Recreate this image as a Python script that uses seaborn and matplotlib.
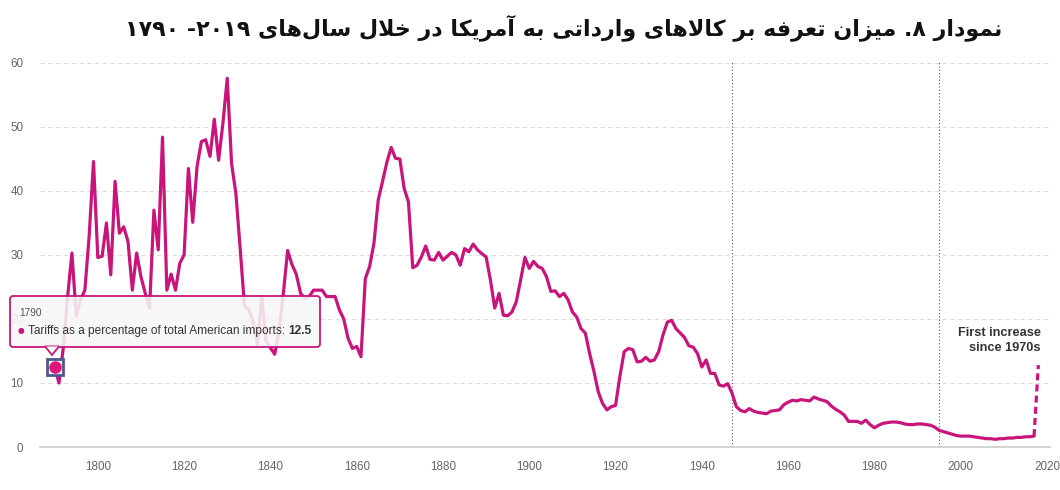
import numpy as np
import pandas as pd
import seaborn as sns
import matplotlib.pyplot as plt
from matplotlib.patches import FancyBboxPatch, Polygon
from matplotlib.transforms import IdentityTransform

### Data
years = list(range(1790, 2018))
tariff = [
    12.5, 10.0, 15.5, 23.5, 30.3, 20.5, 23.0, 24.5, 33.0, 44.6,   # 1790s
    29.6, 29.8, 35.0, 26.9, 41.5, 33.4, 34.4, 32.1, 24.5, 30.3,   # 1800s
    26.6, 24.0, 21.7, 37.0, 30.8, 48.4, 24.5, 27.0, 24.5, 28.7,   # 1810s
    30.0, 43.5, 35.1, 43.8, 47.7, 48.0, 45.4, 51.2, 44.8, 50.6,   # 1820s
    57.6, 44.3, 39.6, 31.0, 22.0, 21.5, 19.5, 16.0, 23.5, 16.5,   # 1830s
    15.5, 14.5, 18.0, 24.0, 30.7, 28.5, 27.0, 24.0, 23.2, 23.5,   # 1840s
    24.5, 24.5, 24.5, 23.5, 23.5, 23.5, 21.4, 20.0, 17.0, 15.4,   # 1850s
    15.7, 14.1, 26.3, 28.2, 31.8, 38.6, 41.5, 44.5, 46.8, 45.1,   # 1860s
    45.0, 40.4, 38.3, 28.0, 28.4, 29.7, 31.4, 29.3, 29.2, 30.4,   # 1870s
    29.2, 29.8, 30.4, 30.0, 28.4, 31.0, 30.5, 31.7, 30.8, 30.2,   # 1880s
    29.7, 26.1, 21.7, 24.0, 20.6, 20.5, 21.1, 22.7, 26.1, 29.6,   # 1890s
    27.9, 29.0, 28.2, 27.9, 26.6, 24.3, 24.4, 23.5, 24.0, 23.0,   # 1900s
    21.1, 20.3, 18.5, 17.8, 14.6, 11.8, 8.6, 6.8, 5.8, 6.3,       # 1910s
    6.5, 11.0, 14.9, 15.4, 15.2, 13.3, 13.4, 14.0, 13.4, 13.6,    # 1920s
    14.9, 17.5, 19.5, 19.8, 18.5, 17.8, 17.1, 15.8, 15.6, 14.6,   # 1930s
    12.5, 13.6, 11.5, 11.5, 9.7, 9.5, 9.9, 8.4, 6.3, 5.7,         # 1940s
    5.5, 6.0, 5.6, 5.4, 5.3, 5.2, 5.6, 5.7, 5.8, 6.6,             # 1950s
    7.0, 7.3, 7.2, 7.4, 7.3, 7.2, 7.8, 7.5, 7.3, 7.1,             # 1960s
    6.4, 5.9, 5.5, 5.0, 4.0, 4.0, 4.0, 3.7, 4.2, 3.5,             # 1970s
    3.0, 3.4, 3.7, 3.8, 3.9, 3.9, 3.8, 3.6, 3.5, 3.5,             # 1980s
    3.6, 3.6, 3.5, 3.4, 3.1, 2.6, 2.4, 2.2, 2.0, 1.8,             # 1990s
    1.7, 1.7, 1.7, 1.6, 1.5, 1.4, 1.3, 1.3, 1.2, 1.3,             # 2000s
    1.3, 1.4, 1.4, 1.5, 1.5, 1.6, 1.6, 1.7,                       # 2010s
]
proj_years = [2017, 2018]
proj_vals = [1.7, 12.8]
event_years = [1947, 1995]
xticks = [1800, 1820, 1840, 1860, 1880, 1900, 1920, 1940, 1960, 1980, 2000, 2020]
yticks = [0, 10, 20, 30, 40, 50, 60]

title_fa = "نمودار ۸. میزان تعرفه بر کالاهای وارداتی به آمریکا در خلال سال‌های ۲۰۱۹- ۱۷۹۰"
tip_year = "1790"
tip_label = "Tariffs as a percentage of total American imports: "
tip_value = "12.5"
note = "First increase\nsince 1970s"

df = pd.DataFrame({"year": years, "tariff": tariff})
proj = pd.DataFrame({"year": proj_years, "tariff": proj_vals})

### minimal Persian shaping (matplotlib has no bidi / joining)
# letter: (isolated, final, initial, medial); 2-tuple => joins only to the right
FORMS = {
    "ا": ("\uFE8D", "\uFE8E"), "آ": ("\uFE81", "\uFE82"),
    "د": ("\uFEA9", "\uFEAA"), "ر": ("\uFEAD", "\uFEAE"),
    "ز": ("\uFEAF", "\uFEB0"), "و": ("\uFEED", "\uFEEE"),
    "ب": ("\uFE8F", "\uFE90", "\uFE91", "\uFE92"),
    "ت": ("\uFE95", "\uFE96", "\uFE97", "\uFE98"),
    "خ": ("\uFEA5", "\uFEA6", "\uFEA7", "\uFEA8"),
    "س": ("\uFEB1", "\uFEB2", "\uFEB3", "\uFEB4"),
    "ع": ("\uFEC9", "\uFECA", "\uFECB", "\uFECC"),
    "ف": ("\uFED1", "\uFED2", "\uFED3", "\uFED4"),
    "ک": ("\uFB8E", "\uFB8F", "\uFB90", "\uFB91"),
    "ل": ("\uFEDD", "\uFEDE", "\uFEDF", "\uFEE0"),
    "م": ("\uFEE1", "\uFEE2", "\uFEE3", "\uFEE4"),
    "ن": ("\uFEE5", "\uFEE6", "\uFEE7", "\uFEE8"),
    "ه": ("\uFEE9", "\uFEEA", "\uFEEB", "\uFEEC"),
    "ی": ("\uFBFC", "\uFBFD", "\uFBFE", "\uFBFF"),
}
LAMALEF = {"ا": ("\uFEFB", "\uFEFC"), "آ": ("\uFEF5", "\uFEF6")}


def shape_word(w):
    out = []
    i = 0
    while i < len(w):
        c = w[i]
        if c not in FORMS:
            i += 1  # drops the ZWNJ
            continue
        prev = w[i - 1] if i > 0 else ""
        joins_prev = prev in FORMS and len(FORMS[prev]) == 4
        if c == "ل" and i + 1 < len(w) and w[i + 1] in LAMALEF:
            out.append(LAMALEF[w[i + 1]][1 if joins_prev else 0])
            i += 2
            continue
        nxt = w[i + 1] if i + 1 < len(w) else ""
        joins_next = len(FORMS[c]) == 4 and nxt in FORMS
        f = FORMS[c]
        if joins_prev and joins_next:
            out.append(f[3])
        elif joins_next:
            out.append(f[2])
        elif joins_prev:
            out.append(f[1])
        else:
            out.append(f[0])
        i += 1
    return "".join(out)[::-1]


def rtl(text):
    words = []
    for w in text.split(" "):
        if any(ch in FORMS for ch in w):
            words.append(shape_word(w))
        else:
            core = w.rstrip(".-")
            words.append(w[len(core):] + core)
    return " ".join(words[::-1])


### Style
sns.set_style("white")
plt.rcParams["font.family"] = ["Liberation Sans", "DejaVu Sans"]

line_col = "#c8157b"
fig = plt.figure(figsize=(10.6, 4.9), dpi=100)
ax = fig.add_axes([40 / 1060, 43 / 490, 1010 / 1060, 386 / 490])

sns.lineplot(data=df, x="year", y="tariff", color=line_col, linewidth=2.3, ax=ax)
sns.lineplot(data=proj, x="year", y="tariff", color=line_col, linewidth=2.3,
             linestyle=(0, (2.2, 1.3)), ax=ax)

for yr in event_years:
    ax.axvline(yr, color="#555555", linestyle=(0, (1, 2)), linewidth=0.8, zorder=1)

ax.set_xlim(1786.6, 2020.7)
ax.set_ylim(0, 60.3)
ax.set_xticks(xticks)
ax.set_yticks(yticks)
ax.set_xlabel("")
ax.set_ylabel("")
for v in yticks[1:]:
    ax.axhline(v, color="#dddddd", linestyle=(0, (4, 3)), linewidth=0.8, zorder=0)
sns.despine(ax=ax, left=True, top=True, right=True)
ax.spines["bottom"].set_color("#cccccc")
ax.spines["bottom"].set_linewidth(1.2)
ax.tick_params(axis="x", length=6, width=0.8, color="#cccccc", labelsize=8.4,
               labelcolor="#666666", pad=4)
ax.tick_params(axis="y", length=0, labelsize=8.4, labelcolor="#666666", pad=12)

ax.text(2018.6, 16.6, note, ha="right", va="center", fontsize=9.2,
        fontweight="bold", color="#333333", linespacing=1.3)

fig.text(0.532, 0.943, rtl(title_fa), ha="center", va="center", fontsize=15.9,
         fontweight="bold", color="#111111", family=["DejaVu Sans"])

### hover tooltip, drawn in pixel coordinates
tip = FancyBboxPatch((10, 143), 310, 51, boxstyle="round,pad=0,rounding_size=3",
                     transform=IdentityTransform(), facecolor="#f7f7f7", alpha=0.88,
                     edgecolor="none", zorder=5)
fig.add_artist(tip)
tip_edge = FancyBboxPatch((10, 143), 310, 51, boxstyle="round,pad=0,rounding_size=3",
                          transform=IdentityTransform(), facecolor="none",
                          edgecolor=line_col, linewidth=1.3, zorder=6)
fig.add_artist(tip_edge)
fig.add_artist(Polygon([(45, 143.6), (52, 135), (59, 143.6)], closed=True,
                       transform=IdentityTransform(), facecolor="#f7f7f7",
                       edgecolor=line_col, linewidth=1.3, zorder=6))
fig.add_artist(Polygon([(46, 143.6), (58, 143.6), (52, 138)], closed=True,
                       transform=IdentityTransform(), facecolor="#f7f7f7",
                       edgecolor="none", zorder=7))
fig.text(19 / 1060, 1 - 313 / 490, tip_year, fontsize=7.3, color="#555555",
         va="center", zorder=8)
fig.text(18 / 1060, 1 - 331 / 490, "\u25CF", fontsize=5.5, color=line_col,
         va="center", zorder=8, family=["DejaVu Sans"])
t = fig.text(28 / 1060, 1 - 331 / 490, tip_label, fontsize=8.6, color="#333333",
             va="center", zorder=8)
fig.canvas.draw()
bb = t.get_window_extent()
fig.text(bb.x1 / 1060, 1 - 331 / 490, tip_value, fontsize=8.6, fontweight="bold",
         color="#333333", va="center", zorder=8)

### highlighted 1790 point
ax.plot(years[0], tariff[0], marker="s", markersize=12, markerfacecolor="#f4f4f8",
        markeredgecolor="#4b5a8e", markeredgewidth=2, zorder=9, clip_on=False)
ax.plot(years[0], tariff[0], marker="o", markersize=8, color="#e0157c", zorder=10,
        clip_on=False)

fig.savefig("out.png", dpi=100)
